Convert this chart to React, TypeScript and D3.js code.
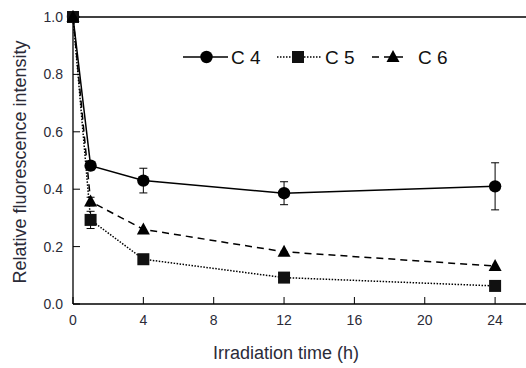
import * as d3 from "d3";

const times = [0, 1, 4, 12, 24];
const c4 = [1.0, 0.482, 0.43, 0.386, 0.41];
const c4Err = [0, 0.015, 0.043, 0.04, 0.082];
const c5 = [1.0, 0.293, 0.156, 0.092, 0.063];
const c5Err = [0, 0.03, 0, 0, 0];
const c6 = [1.0, 0.357, 0.26, 0.182, 0.132];
const c6Err = [0, 0.015, 0, 0, 0];
const xTicks = [0, 4, 8, 12, 16, 20, 24];
const yTicks = [0, 0.2, 0.4, 0.6, 0.8, 1.0];

const W = 526;
const H = 368;
const font = "'Liberation Sans', Arial, sans-serif";
const ink = "#2b2b38";

const x = d3.scaleLinear().domain([0, 25.7]).range([73, 525]);
const y = d3.scaleLinear().domain([0, 1]).range([304, 17]);

type Series = {name: string; values: number[]; err: number[]; dash: string; shape: string};
const series: Series[] = [
	{name: "C 4", values: c4, err: c4Err, dash: "none", shape: "circle"},
	{name: "C 5", values: c5, err: c5Err, dash: "1.5 1.5", shape: "square"},
	{name: "C 6", values: c6, err: c6Err, dash: "7 5", shape: "triangle"},
];

const line = d3
	.line<number>()
	.x((_, i) => x(times[i]))
	.y((d) => y(d));

const Marker = ({shape, cx, cy}: {shape: string; cx: number; cy: number}) => {
	if (shape === "circle") return <circle cx={cx} cy={cy} r={6.2} fill="#000" />;
	if (shape === "square") return <rect x={cx - 6} y={cy - 6} width={12} height={12} fill="#111" />;
	return <path d={`M${cx},${cy - 7}L${cx + 6.5},${cy + 5}L${cx - 6.5},${cy + 5}Z`} fill="#000" />;
};

const legendItems = [
	{x0: 183, x1: 228, mx: 206.5, tx: 231},
	{x0: 277, x1: 322, mx: 298, tx: 325},
	{x0: 372, x1: 408, mx: 393, tx: 418},
];

const App = () => {
	return (
		<svg width={W} height={H} style={{position: "absolute", left: 0, top: 0, background: "#fff"}}>
			{/* frame: top, left, bottom */}
			<line x1={73} x2={526} y1={17} y2={17} stroke="#000" strokeWidth={1.3} />
			<line x1={73} x2={73} y1={17} y2={304} stroke="#000" strokeWidth={1.3} />
			<line x1={73} x2={526} y1={304} y2={304} stroke="#000" strokeWidth={1.3} />

			{yTicks.map((t) => (
				<g key={t}>
					<line x1={73} x2={80} y1={y(t)} y2={y(t)} stroke="#000" strokeWidth={1} />
					<text x={63} y={y(t) + 5} textAnchor="end" fontSize={14} fontFamily={font} fill={ink}>
						{t.toFixed(1)}
					</text>
				</g>
			))}
			{xTicks.map((t) => (
				<g key={t}>
					<line x1={x(t)} x2={x(t)} y1={304} y2={297} stroke="#000" strokeWidth={1} />
					<text x={x(t)} y={325} textAnchor="middle" fontSize={14} fontFamily={font} fill={ink}>
						{t}
					</text>
				</g>
			))}

			<text x={286} y={359} textAnchor="middle" fontSize={18} fontFamily={font} fill={ink}>
				Irradiation time (h)
			</text>
			<text
				transform={`translate(26,162) rotate(-90)`}
				textAnchor="middle"
				fontSize={18}
				fontFamily={font}
				fill={ink}
			>
				Relative fluorescence intensity
			</text>

			{series.map((s) => (
				<g key={s.name}>
					<path d={line(s.values) ?? ""} fill="none" stroke="#000" strokeWidth={1.5} strokeDasharray={s.dash} />
					{s.values.map((v, i) =>
						s.err[i] > 0 ? (
							<g key={i} stroke="#000" strokeWidth={1}>
								<line x1={x(times[i])} x2={x(times[i])} y1={y(v + s.err[i])} y2={y(v - s.err[i])} />
								<line x1={x(times[i]) - 4} x2={x(times[i]) + 4} y1={y(v + s.err[i])} y2={y(v + s.err[i])} />
								<line x1={x(times[i]) - 4} x2={x(times[i]) + 4} y1={y(v - s.err[i])} y2={y(v - s.err[i])} />
							</g>
						) : null
					)}
					{s.values.map((v, i) => (
						<Marker key={i} shape={s.shape} cx={x(times[i])} cy={y(v)} />
					))}
				</g>
			))}

			{series.map((s, k) => {
				const it = legendItems[k];
				return (
					<g key={s.name}>
						<line x1={it.x0} x2={it.x1} y1={57} y2={57} stroke="#000" strokeWidth={1.5} strokeDasharray={s.dash} />
						<Marker shape={s.shape} cx={it.mx} cy={57} />
						<text x={it.tx} y={64} fontSize={19} fontFamily={font} fill="#111">
							{s.name}
						</text>
					</g>
				);
			})}
		</svg>
	);
};

export default App;
